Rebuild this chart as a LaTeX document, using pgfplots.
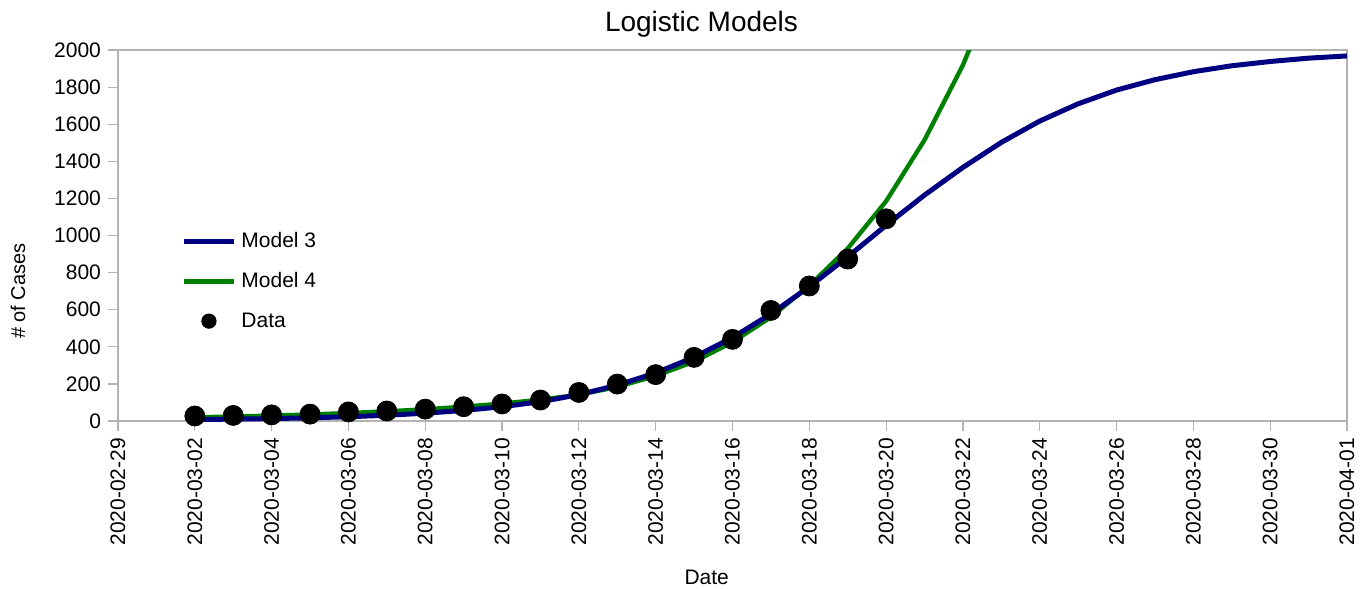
\documentclass[border=0pt]{standalone}
\usepackage{fontspec}
\setmainfont{Liberation Sans}
\usepackage{pgfplots}
\pgfplotsset{compat=1.18}
\definecolor{navyblue}{RGB}{0,0,128}
\definecolor{mgreen}{RGB}{0,128,0}
\definecolor{axgray}{RGB}{179,179,179}
\begin{document}
\begin{tikzpicture}
\begin{axis}[
  scale only axis, width=614.5pt, height=185.5pt,
  xmin=0, xmax=32, ymin=0, ymax=2000,
  xtick={0,2,...,32},
  xticklabels={2020-02-29,2020-03-02,2020-03-04,2020-03-06,2020-03-08,2020-03-10,2020-03-12,2020-03-14,2020-03-16,2020-03-18,2020-03-20,2020-03-22,2020-03-24,2020-03-26,2020-03-28,2020-03-30,2020-04-01},
  ytick={0,200,...,2000},
  scaled y ticks=false,
  yticklabel style={/pgf/number format/1000 sep={}},
  /pgf/number format/assume math mode=true,
  tick pos=left, tick align=outside, major tick length=5pt,
  axis line style={axgray, line width=0.6pt},
  tick style={axgray, line width=0.6pt},
  x tick label style={rotate=90, anchor=east, font=\fontsize{10.5}{12}\selectfont},
  y tick label style={font=\fontsize{10.5}{12}\selectfont},
  title={Logistic Models},
  title style={at={(0.4748,1)}, anchor=base, yshift=3.5pt, font=\fontsize{14}{16}\selectfont},
  xlabel={Date},
  xlabel style={at={(0.479,0)}, anchor=center, yshift=-78pt, font=\fontsize{10.5}{12}\selectfont},
  ylabel={\# of Cases},
  ylabel style={at={(0,0.35)}, anchor=center, yshift=50pt, font=\fontsize{10}{12}\selectfont},
  reverse legend,
  legend style={draw=none, fill=none, at={(0.0513,0.377)}, anchor=west, inner sep=0pt,
    row sep=10pt, column sep=2.5pt, font=\fontsize{10.5}{12}\selectfont,
    nodes={inner sep=0pt, text height=8pt, text depth=2pt}},
  legend cell align=left,
]
\coordinate (bl) at (rel axis cs:0,0);
\addplot[only marks, mark=*, mark size=5pt, black,
  legend image code/.code={\fill[black] (12.5pt,0) circle (3.6pt);}]
  coordinates {
  (2,27) (3,30) (4,33) (5,37) (6,49) (7,54) (8,64) (9,77) (10,92) (11,113)
  (12,154) (13,199) (14,250) (15,343) (16,440) (17,596) (18,728) (19,873) (20,1090)
  };
\addlegendentry{Data}
\addplot[mgreen, line width=2.2pt, line join=round,
  legend image code/.code={\draw[mgreen, line width=2.5pt] (0,0) -- (25pt,0);}]
  coordinates {
  (2,20) (3,24) (4,29) (5,35) (6,43) (7,52) (8,63) (9,77) (10,94) (11,115)
  (12,141) (13,184) (14,243) (15,320) (16,425) (17,560) (18,730) (19,930)
  (20,1185) (21,1515) (22,1919) (23,2420)
  };
\addlegendentry{Model 4}
\addplot[navyblue, line width=2.5pt, line join=round,
  legend image code/.code={\draw[navyblue, line width=2.5pt] (0,0) -- (25pt,0);}]
  coordinates {
  (2,8) (3,10) (4,13) (5,17) (6,23) (7,31) (8,42) (9,57) (10,77) (11,104)
  (12,142) (13,193) (14,259) (15,344) (16,450) (17,577) (18,724) (19,885)
  (20,1055) (21,1218) (22,1367) (23,1502) (24,1617) (25,1710) (26,1784)
  (27,1840) (28,1883) (29,1915) (30,1938) (31,1956) (32,1968)
  };
\addlegendentry{Model 3}
\end{axis}
\pgfresetboundingbox
\path (bl) ++(-59pt,-84pt) rectangle ++(683.5pt,294.5pt);
\end{tikzpicture}
\end{document}
